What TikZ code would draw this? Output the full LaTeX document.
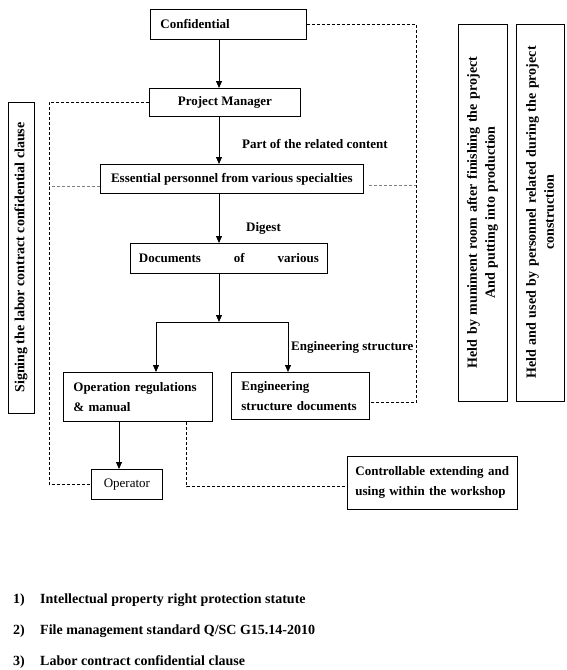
\documentclass[tikz,border=0pt]{standalone}
\usepackage{fontspec}
\setmainfont{Liberation Serif}
\usetikzlibrary{arrows.meta,calc,positioning}

\tikzset{
  box/.style={draw, line width=0.8pt, font=\bfseries\fontsize{13}{20}\selectfont,
    inner xsep=10pt, inner ysep=0pt, anchor=north west},
  vbox/.style={draw, line width=0.8pt, font=\bfseries\fontsize{14}{18}\selectfont,
    rotate=90, align=center, inner sep=0pt},
  arr/.style={line width=0.8pt, -{Triangle[length=7pt,width=6pt]}},
  dline/.style={line width=0.7pt, dash pattern=on 3pt off 2pt},
  gline/.style={dline, black!50},
  lbl/.style={font=\bfseries\fontsize{13}{15}\selectfont, anchor=base west, inner sep=0pt},
  reflbl/.style={lbl, font=\bfseries\fontsize{14}{16}\selectfont},
}

\begin{document}
\begin{tikzpicture}[x=1pt,y=-1pt]
    \useasboundingbox (0,0) rectangle (566,670);

    % Main chain
    \node[box, minimum width=156pt, minimum height=30pt, text width=136pt, align=left] (conf) at (150,9) {Confidential};
    \node[box, minimum width=151pt, minimum height=28pt] (pm) at (149,88) {Project Manager};
    \node[box, minimum width=263pt, minimum height=29pt] (ess) at (100,164) {Essential personnel from various specialties};
    \node[box, minimum width=197pt, minimum height=30pt, inner xsep=8.5pt, text width=180pt] (docs) at (130,243) {Documents\hfill of\hfill various};
    \node[box, minimum width=149pt, minimum height=49pt, text width=129pt, align=left] (op) at (63,372) {Operation regulations\\ \& manual};
    \node[box, minimum width=138pt, minimum height=47pt, text width=118pt, align=left] (eng) at (231,372) {Engineering\\ structure documents};
    \node[box, minimum width=71pt, minimum height=30pt, font=\fontsize{13}{15}\selectfont] (oper) at (91,469) {Operator};
    \node[box, minimum width=170pt, minimum height=53pt, inner xsep=8pt, text width=154pt, align=left] (ctrl) at (347,456) {Controllable extending and\\ using within the workshop};

    % Side boxes
    \node[vbox, minimum width=311pt, minimum height=26pt] (sign) at (21,257.5) {Signing the labor contract confidential clause};
    \node[vbox, minimum width=377pt, minimum height=49pt, text width=360pt] (muni) at (482.5,212.5) {Held by muniment room after finishing the project\\ And putting into production};
    \node[vbox, minimum width=377pt, minimum height=48pt, text width=360pt] (used) at (540,212.5) {Held and used by personnel related during the project\\ construction};

    % Arrows
    \coordinate (spine) at (219,0);
    \draw[arr] (conf.south -| spine) -- (pm.north -| spine);
    \draw[arr] (pm.south -| spine) -- (ess.north -| spine);
    \draw[arr] (ess.south -| spine) -- (docs.north -| spine);
    \coordinate (split) at (219,322);
    \draw[arr] (docs.south -| spine) -- (split);
    \coordinate (lsplit) at (156,322);
    \coordinate (rsplit) at (288,322);
    \draw[line width=0.8pt] (lsplit) -- (rsplit);
    \draw[arr] (lsplit) -- (lsplit |- op.north);
    \draw[arr] (rsplit) -- (rsplit |- eng.north);
    \coordinate (opx) at (119,0);
    \draw[arr] (op.south -| opx) -- (oper.north -| opx);

    % Dashed links
    \coordinate (lrail) at (49,0);
    \draw[dline] (pm.west) -- (pm.west -| lrail) -- (oper.west -| lrail) -- (oper.west);
    \coordinate (essl) at ($(ess.south west)+(0,-7)$);
    \draw[gline] (essl) -- (essl -| lrail);
    \coordinate (rrail) at (416,0);
    \coordinate (engr) at ($(eng.south east)+(0,-17)$);
    \draw[dline] (conf.east) -- (conf.east -| rrail) -- (engr -| rrail) -- (engr);
    \coordinate (essr) at ($(ess.south east)+(5,-8)$);
    \draw[gline] (essr) -- (essr -| rrail);
    \coordinate (opd) at ($(op.south east)+(-26,0)$);
    \coordinate (ctrlw) at ($(ctrl.south west)+(0,-23)$);
    \draw[dline] (opd) |- (ctrlw);

    % Labels
    \node[lbl] (partlbl) at (242,148) {Part of the related content};
    \node[lbl] (diglbl) at (246,231) {Digest};
    \node[lbl] (englbl) at (291,350) {Engineering structure};

    % References
    \foreach \i/\t/\yy in {1/{Intellectual property right protection statute}/603,
        2/{File management standard Q/SC G15.14-2010}/634,
        3/{Labor contract confidential clause}/665} {
      \node[reflbl] (num\i) at (13,\yy) {\i)};
      \node[reflbl] (item\i) at (40,\yy) {\t};
    }
\end{tikzpicture}
\end{document}
